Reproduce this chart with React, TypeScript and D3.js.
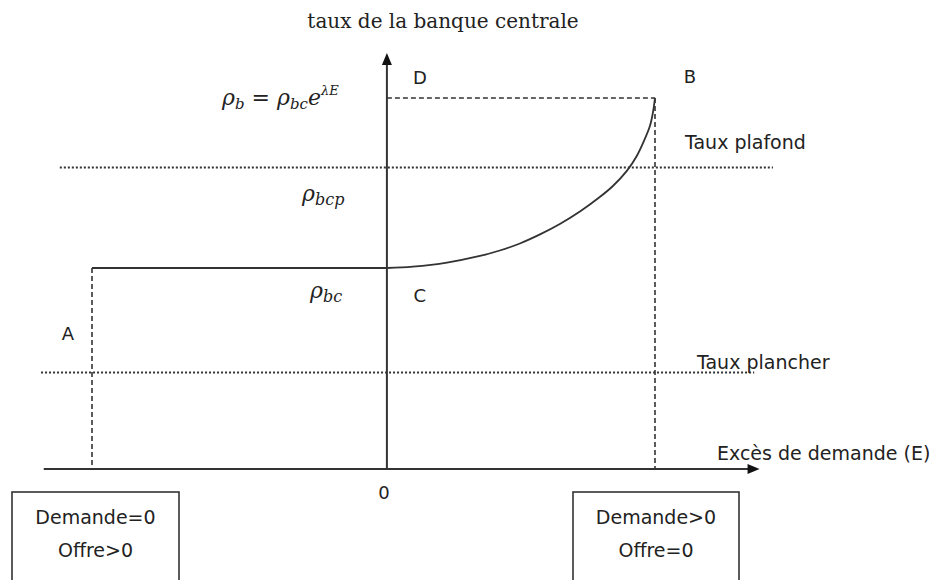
import React from 'react';
import * as d3 from 'd3';

const curveE = [0, 0.097, 0.224, 0.347, 0.421, 0.496, 0.571, 0.645, 0.72, 0.794, 0.843, 0.895, 0.932, 0.962, 0.981, 0.992, 1.0];
const curveRate = [1.0, 1.007, 1.027, 1.06, 1.087, 1.122, 1.167, 1.219, 1.281, 1.353, 1.408, 1.483, 1.557, 1.642, 1.706, 1.771, 1.846];

const pointE = { A: -1.1, C: 0, B: 1.0 };
const levelRate = { bc: 1.0, plafond: 1.5, plancher: 0.48, b: 1.846 };

const axisE = [-1.28, 1.39];
const axisRate = [0, 2.07];
const plafondE = [-1.22, 1.44];
const plancherE = [-1.29, 1.37];

const boxLabels = [
  ['Demande=0', 'Offre>0'],
  ['Demande>0', 'Offre=0'],
];

const W = 943;
const H = 580;
const ink = '#333';
const sans = '"DejaVu Sans", "Noto Sans", sans-serif';
const serif = '"DejaVu Serif", "Liberation Serif", serif';

export default function App() {
  const x = d3.scaleLinear().domain([pointE.A, pointE.B]).range([92, 655]);
  const y = d3.scaleLinear().domain([0, levelRate.bc]).range([469, 268]);

  const x0 = x(0);
  const y0 = y(0);

  const curvePts: [number, number][] = curveE.map((e, i) => [e, curveRate[i]]);
  const line = d3
    .line<[number, number]>()
    .x(d => x(d[0]))
    .y(d => y(d[1]))
    .curve(d3.curveCatmullRom.alpha(0.5));

  const flat = `M${x(pointE.A)},${y(levelRate.bc)}H${x0}`;
  const yTop = y(axisRate[1]);
  const xEnd = x(axisE[1]);

  const boxes = [
    { cx: (12 + 179) / 2, x0: 12, x1: 179 },
    { cx: (573 + 739) / 2, x0: 573, x1: 739 },
  ];

  return (
    <svg
      width={W}
      height={H}
      style={{ position: 'absolute', left: 0, top: 0, background: '#fff' }}
    >
      <rect width={W} height={H} fill="#fff" />

      {/* lignes de référence pointillées */}
      <line
        x1={x(plafondE[0])}
        x2={x(plafondE[1])}
        y1={y(levelRate.plafond)}
        y2={y(levelRate.plafond)}
        stroke={ink}
        strokeWidth={2}
        strokeDasharray="2,2"
      />
      <line
        x1={x(plancherE[0])}
        x2={x(plancherE[1])}
        y1={y(levelRate.plancher)}
        y2={y(levelRate.plancher)}
        stroke={ink}
        strokeWidth={2}
        strokeDasharray="2,2"
      />

      {/* tirets verticaux et horizontal */}
      <line
        x1={x(pointE.A)}
        x2={x(pointE.A)}
        y1={y(levelRate.bc)}
        y2={y0}
        stroke={ink}
        strokeWidth={1.6}
        strokeDasharray="5,3"
      />
      <line
        x1={x(pointE.B)}
        x2={x(pointE.B)}
        y1={y(levelRate.b)}
        y2={y0}
        stroke={ink}
        strokeWidth={1.6}
        strokeDasharray="5,3"
      />
      <line
        x1={x0}
        x2={x(pointE.B)}
        y1={y(levelRate.b)}
        y2={y(levelRate.b)}
        stroke={ink}
        strokeWidth={1.6}
        strokeDasharray="5,3"
      />

      {/* axes */}
      <line x1={x(axisE[0])} x2={xEnd - 8} y1={y0} y2={y0} stroke={ink} strokeWidth={2} />
      <path d={`M${xEnd},${y0}L${xEnd - 12},${y0 - 5}L${xEnd - 12},${y0 + 5}Z`} fill="#111" />
      <line x1={x0} x2={x0} y1={y0} y2={yTop + 8} stroke={ink} strokeWidth={2} />
      <path d={`M${x0},${yTop}L${x0 - 5},${yTop + 12}L${x0 + 5},${yTop + 12}Z`} fill="#111" />

      {/* taux */}
      <path d={flat} fill="none" stroke={ink} strokeWidth={2} />
      <path d={line(curvePts) || ''} fill="none" stroke={ink} strokeWidth={1.8} />

      {/* textes */}
      <text x={443} y={28} fontFamily={serif} fontSize={20} textAnchor="middle" fill="#222">
        taux de la banque centrale
      </text>

      <g fontFamily={sans} fontSize={18} fill="#222">
        <text x={x0 + 33} y={84} textAnchor="middle">D</text>
        <text x={x(pointE.B) + 35} y={83} textAnchor="middle">B</text>
        <text x={x0 + 33} y={302} textAnchor="middle">C</text>
        <text x={68} y={340} textAnchor="middle">A</text>
        <text x={x0 - 3} y={499} textAnchor="middle">0</text>
        <text x={685} y={149} fontSize={19}>Taux plafond</text>
        <text x={697} y={369} fontSize={19}>Taux plancher</text>
        <text x={717} y={460} fontSize={19}>Excès de demande (E)</text>
      </g>

      <g fontFamily={serif} fontStyle="italic" fill="#222">
        <text x={222} y={105} fontSize={22}>
          ρ<tspan fontSize={15} dy={4}>b</tspan>
          <tspan dy={-4} fontStyle="normal"> = </tspan>
          <tspan>ρ</tspan>
          <tspan fontSize={15} dy={4}>bc</tspan>
          <tspan dy={-4}>e</tspan>
          <tspan fontSize={13} dy={-10}>λE</tspan>
        </text>
        <text x={302} y={201} fontSize={22}>
          ρ<tspan fontSize={16} dy={4}>bcp</tspan>
        </text>
        <text x={310} y={298} fontSize={22}>
          ρ<tspan fontSize={16} dy={4}>bc</tspan>
        </text>
      </g>

      {/* encadrés */}
      {boxes.map((b, i) => (
        <g key={i}>
          <rect x={b.x0} y={492} width={b.x1 - b.x0} height={110} fill="none" stroke={ink} strokeWidth={1.6} />
          <text x={b.cx} y={524} fontFamily={sans} fontSize={19} textAnchor="middle" fill="#222">
            {boxLabels[i][0]}
          </text>
          <text x={b.cx} y={557} fontFamily={sans} fontSize={19} textAnchor="middle" fill="#222">
            {boxLabels[i][1]}
          </text>
        </g>
      ))}
    </svg>
  );
}
